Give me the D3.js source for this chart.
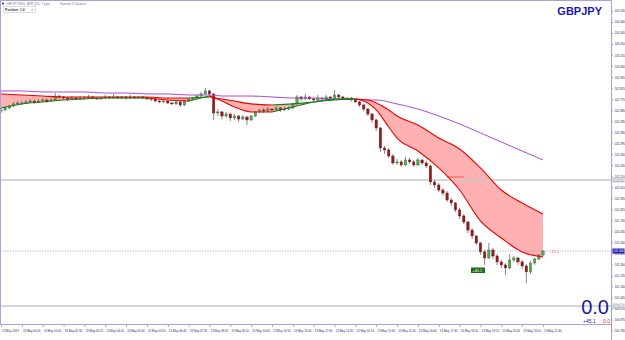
<!DOCTYPE html>
<html lang="en">
<head>
<meta charset="UTF-8">
<title>GBPJPY</title>
<style>
  html, body { margin: 0; padding: 0; background: #fff; }
  svg { display: block; font-family: "Liberation Sans", Arial, sans-serif; }
</style>
</head>
<body>
<script src="https://cdn.jsdelivr.net/npm/d3@7"></script>
<script>
// candles (one per bar, index 0..130)
var opens = [142.673,142.682,142.699,142.716,142.734,142.742,142.742,142.751,142.759,142.751,
142.759,142.768,142.759,142.768,142.802,142.794,142.785,142.777,142.785,142.777,
142.785,142.785,142.794,142.785,142.777,142.785,142.794,142.785,142.794,142.785,
142.794,142.785,142.794,142.785,142.794,142.785,142.777,142.777,142.759,142.751,
142.759,142.742,142.734,142.751,142.725,142.759,142.777,142.785,142.802,142.820,
142.846,142.820,142.656,142.665,142.630,142.647,142.613,142.630,142.604,142.621,
142.596,142.630,142.665,142.682,142.673,142.690,142.682,142.699,142.682,142.690,
142.699,142.734,142.794,142.777,142.794,142.777,142.768,142.785,142.777,142.794,
142.785,142.811,142.794,142.777,142.785,142.768,142.751,142.725,142.690,142.647,
142.596,142.527,142.354,142.337,142.285,142.225,142.234,142.208,142.251,142.234,
142.208,142.251,142.225,142.199,142.061,142.035,141.992,141.966,141.906,141.880,
141.820,141.768,141.716,141.647,141.596,141.535,141.458,141.406,141.475,141.423,
141.372,141.346,141.320,141.389,141.406,141.372,141.337,141.286,141.363,141.397,
141.432];
var closes = [142.682,142.699,142.716,142.734,142.742,142.742,142.751,142.759,142.751,142.759,
142.768,142.759,142.768,142.802,142.794,142.785,142.777,142.785,142.777,142.785,
142.785,142.794,142.785,142.777,142.785,142.794,142.785,142.794,142.785,142.794,
142.785,142.794,142.785,142.794,142.785,142.777,142.777,142.759,142.751,142.759,
142.742,142.734,142.751,142.725,142.759,142.777,142.785,142.802,142.820,142.846,
142.820,142.656,142.665,142.630,142.647,142.613,142.630,142.604,142.621,142.596,
142.630,142.665,142.682,142.673,142.690,142.682,142.699,142.682,142.690,142.699,
142.734,142.794,142.777,142.794,142.777,142.768,142.785,142.777,142.794,142.785,
142.811,142.794,142.777,142.785,142.768,142.751,142.725,142.690,142.647,142.596,
142.527,142.354,142.337,142.285,142.225,142.234,142.208,142.251,142.234,142.208,
142.251,142.225,142.199,142.061,142.035,141.992,141.966,141.906,141.880,141.820,
141.768,141.716,141.647,141.596,141.535,141.458,141.406,141.475,141.423,141.372,
141.346,141.320,141.389,141.406,141.372,141.337,141.286,141.363,141.397,141.432,
141.466];
var highs = [142.699,142.716,142.725,142.751,142.759,142.759,142.768,142.777,142.768,142.777,
142.785,142.777,142.785,142.828,142.811,142.802,142.794,142.802,142.794,142.802,
142.802,142.811,142.802,142.794,142.794,142.811,142.802,142.820,142.802,142.802,
142.802,142.811,142.802,142.802,142.802,142.794,142.794,142.785,142.768,142.768,
142.768,142.751,142.759,142.759,142.768,142.785,142.794,142.811,142.837,142.871,
142.854,142.828,142.690,142.673,142.665,142.656,142.647,142.639,142.639,142.630,
142.639,142.673,142.690,142.699,142.708,142.699,142.716,142.708,142.708,142.716,
142.742,142.811,142.802,142.820,142.802,142.785,142.811,142.794,142.811,142.802,
142.854,142.820,142.802,142.794,142.794,142.777,142.759,142.734,142.699,142.656,
142.604,142.535,142.371,142.354,142.302,142.259,142.251,142.277,142.268,142.251,
142.268,142.259,142.242,142.208,142.078,142.052,142.009,141.983,141.923,141.889,
141.837,141.785,141.725,141.664,141.604,141.544,141.475,141.535,141.492,141.440,
141.389,141.363,141.440,141.423,141.415,141.389,141.354,141.380,141.406,141.440,
141.475];
var lows = [142.656,142.673,142.690,142.708,142.725,142.725,142.734,142.742,142.734,142.742,
142.751,142.742,142.751,142.759,142.777,142.768,142.759,142.768,142.768,142.768,
142.777,142.777,142.777,142.768,142.768,142.777,142.777,142.777,142.777,142.777,
142.768,142.777,142.777,142.777,142.777,142.768,142.759,142.751,142.742,142.742,
142.734,142.725,142.725,142.708,142.716,142.751,142.768,142.777,142.794,142.811,
142.802,142.596,142.630,142.604,142.613,142.587,142.596,142.578,142.596,142.552,
142.587,142.621,142.656,142.656,142.665,142.665,142.673,142.665,142.673,142.682,
142.690,142.725,142.759,142.768,142.768,142.759,142.759,142.759,142.768,142.768,
142.777,142.777,142.768,142.768,142.759,142.742,142.708,142.673,142.630,142.570,
142.501,142.320,142.302,142.268,142.208,142.208,142.190,142.199,142.216,142.190,
142.199,142.208,142.182,142.035,142.009,141.975,141.940,141.889,141.854,141.802,
141.742,141.699,141.621,141.570,141.518,141.432,141.346,141.397,141.397,141.346,
141.320,141.259,141.311,141.372,141.346,141.311,141.190,141.268,141.346,141.389,
141.423];

// moving averages, read at these bar indices
var maIdx = [0,5,10,15,20,25,30,35,40,45,50,53,56,60,65,70,75,80,85,88,90,93,95,100,105,110,115,120,125,130];
var fastMA = [142.699,142.734,142.751,142.768,142.777,142.785,142.785,142.785,142.768,142.759,
142.802,142.759,142.708,142.665,142.665,142.708,142.751,142.777,142.777,142.742,
142.682,142.535,142.440,142.328,142.182,141.992,141.725,141.578,141.458,141.415];
var slowMA = [142.820,142.811,142.802,142.794,142.794,142.794,142.794,142.794,142.785,142.785,
142.794,142.777,142.759,142.734,142.725,142.734,142.751,142.768,142.777,142.768,
142.742,142.682,142.630,142.553,142.440,142.346,142.182,141.992,141.880,141.785];
var longMA = [142.846,142.846,142.837,142.837,142.837,142.828,142.828,142.820,142.820,142.811,
142.811,142.802,142.802,142.802,142.794,142.785,142.785,142.777,142.777,142.768,
142.768,142.751,142.734,142.690,142.630,142.561,142.484,142.406,142.328,142.251];

var priceTicks = [143.535,143.440,143.345,143.250,143.155,143.060,142.965,142.870,142.775,142.680,
142.585,142.490,142.395,142.300,142.205,142.110,142.015,141.920,141.825,141.730,
141.635,141.540,141.445,141.350,141.255,141.160,141.065,140.970,140.875,140.780];
var timeTicks = [0,5,10,15,20,25,30,35,40,45,50,55,60,65,70,75,80,85,90,95,100,105,110,115,120,125,130];
var timeLabels = ["13 May 2019","13 May 00:50","13 May 01:40","13 May 02:30","13 May 03:20","13 May 04:10",
"13 May 05:00","13 May 05:50","13 May 06:40","13 May 07:30","13 May 08:20","13 May 09:10","13 May 10:00",
"13 May 10:50","13 May 11:40","13 May 12:30","13 May 13:20","13 May 14:10","13 May 15:00","13 May 15:50",
"13 May 16:40","13 May 17:30","13 May 18:20","13 May 19:10","13 May 20:00","13 May 20:50","13 May 21:40"];

var bidPrice = 141.466;
var levelLines = [142.078, 140.992];
var markLine = {from: 107, to: 111, price: 142.104};

var W = 625, H = 340, plotR = 611, plotB = 324;
var borderC = "#a8a0d8", textC = "#2a2a60";
var small = "2.9px";

var svg = d3.select("body").append("svg").attr("width", W).attr("height", H);

var x = d3.scaleLinear().domain([0, 130]).range([1, 543]);
var y = d3.scaleLinear().domain([143.535, 140.780]).range([11, 330.6]);

var defs = svg.append("defs");
var curve = d3.curveMonotoneX;
var maPts = maIdx.map(function(b, k) { return {b: b, f: fastMA[k], s: slowMA[k], l: longMA[k]}; });

defs.append("clipPath").attr("id", "below").append("path")
  .attr("d", d3.area().x(function(d){ return x(d.b); }).y0(function(d){ return y(d.s); }).y1(H).curve(curve)(maPts));
defs.append("clipPath").attr("id", "above").append("path")
  .attr("d", d3.area().x(function(d){ return x(d.b); }).y0(0).y1(function(d){ return y(d.s); }).curve(curve)(maPts));

var band = d3.area().x(function(d){ return x(d.b); })
  .y0(function(d){ return y(d.s); }).y1(function(d){ return y(d.f); }).curve(curve);
svg.append("path").attr("d", band(maPts)).attr("fill", "#ffb0b0").attr("clip-path", "url(#below)");
svg.append("path").attr("d", band(maPts)).attr("fill", "#c4e6c0").attr("clip-path", "url(#above)");

// level lines
levelLines.forEach(function(p) {
  svg.append("line").attr("x1", 0).attr("x2", plotR).attr("y1", y(p)).attr("y2", y(p))
    .attr("stroke", "#c8c8c8").attr("stroke-width", 1.3);
});
svg.append("line").attr("x1", 0).attr("x2", plotR).attr("y1", y(bidPrice)).attr("y2", y(bidPrice))
  .attr("stroke", "#8a8ad8").attr("stroke-width", 0.8).attr("stroke-dasharray", "1,1.5");
svg.append("line").attr("x1", x(markLine.from)).attr("x2", x(markLine.to))
  .attr("y1", y(markLine.price)).attr("y2", y(markLine.price))
  .attr("stroke", "#ff3030").attr("stroke-width", 0.7);

// candles
var bars = d3.range(opens.length);
var g = svg.append("g");
g.selectAll(".wick").data(bars).enter().append("line")
  .attr("x1", function(i){ return x(i); }).attr("x2", function(i){ return x(i); })
  .attr("y1", function(i){ return y(highs[i]); }).attr("y2", function(i){ return y(lows[i]); })
  .attr("stroke", "#6a6a6a").attr("stroke-width", 0.8);
g.selectAll(".body").data(bars).enter().append("rect")
  .attr("x", function(i){ return x(i) - 1.2; }).attr("width", 2.4)
  .attr("y", function(i){ return y(Math.max(opens[i], closes[i])); })
  .attr("height", function(i){ return Math.max(0.8, Math.abs(y(opens[i]) - y(closes[i]))); })
  .attr("fill", function(i){ return closes[i] >= opens[i] ? "#5aa85a" : "#8e1e1e"; })
  .attr("stroke", function(i){ return closes[i] >= opens[i] ? "#2a6a2a" : "#7a1414"; })
  .attr("stroke-width", 0.4);

// MA lines, coloured by slope
function drawMA(key, upC, downC, fixed) {
  var line = d3.line().x(function(d){ return x(d.b); }).y(function(d){ return y(d[key]); }).curve(curve);
  if (fixed) {
    svg.append("path").attr("d", line(maPts)).attr("fill", "none").attr("stroke", fixed).attr("stroke-width", 1);
    return;
  }
  var runs = [], cur = null, up = true;
  for (var k = 1; k < maPts.length; k++) {
    var dv = maPts[k][key] - maPts[k-1][key];
    if (dv > 0) up = true; else if (dv < 0) up = false;
    if (!cur || cur.up !== up) { cur = {up: up, pts: [maPts[k-1]]}; runs.push(cur); }
    cur.pts.push(maPts[k]);
  }
  runs.forEach(function(r) {
    svg.append("path").attr("d", line(r.pts)).attr("fill", "none")
      .attr("stroke", r.up ? upC : downC).attr("stroke-width", 1.1);
  });
}
drawMA("l", null, null, "#b04ad0");
drawMA("s", "#1a7a1a", "#ee0000");
drawMA("f", "#1a7a1a", "#ee0000");

// frame
svg.append("line").attr("x1", 0.5).attr("x2", 0.5).attr("y1", 0).attr("y2", plotB).attr("stroke", borderC);
svg.append("line").attr("x1", 0).attr("x2", plotR).attr("y1", 0.5).attr("y2", 0.5).attr("stroke", borderC);

// price axis
var yAxis = d3.axisRight(y).tickValues(priceTicks).tickFormat(d3.format(".3f")).tickSize(2).tickPadding(1.5);
var ya = svg.append("g").attr("transform", "translate(" + plotR + ",0)").call(yAxis);
ya.select(".domain").attr("stroke", borderC).attr("d", "M0.5,0V" + H);
ya.selectAll(".tick line").attr("stroke", borderC);
ya.selectAll("text").attr("font-size", small).attr("fill", textC).attr("font-family", "Liberation Sans, Arial, sans-serif");

// time axis
var xAxis = d3.axisBottom(x).tickValues(timeTicks).tickFormat(function(d, i){ return timeLabels[i]; })
  .tickSize(3).tickPadding(2.5);
var xa = svg.append("g").attr("transform", "translate(0," + plotB + ")").call(xAxis);
xa.select(".domain").attr("stroke", borderC).attr("d", "M0,0.5H" + plotR);
xa.selectAll(".tick line").attr("stroke", borderC);
xa.selectAll("text").attr("font-size", small).attr("fill", textC).attr("text-anchor", "start").attr("dx", "0.6")
  .attr("font-family", "Liberation Sans, Arial, sans-serif");

// axis price tags
function tag(p, bg) {
  svg.append("rect").attr("x", plotR + 1.5).attr("y", y(p) - 2.5).attr("width", 12).attr("height", 5).attr("fill", bg);
  svg.append("text").attr("x", plotR + 2.3).attr("y", y(p) + 1).attr("font-size", small)
    .attr("fill", "#fff").text(d3.format(".3f")(p));
}
levelLines.forEach(function(p){ tag(p, "#c4c4c4"); });
tag(bidPrice, "#1c1cb0");

// texts
svg.append("text").attr("x", 602).attr("y", 15).attr("text-anchor", "end")
  .attr("font-size", "11px").attr("font-weight", "bold").attr("fill", "#1a1aa8").text("GBPJPY");
svg.append("rect").attr("x", 2).attr("y", 2.5).attr("width", 2).attr("height", 2).attr("fill", "#555");
svg.append("text").attr("x", 6).attr("y", 5).attr("font-size", "3.2px").attr("fill", "#777").text("GBPJPY,M10");
svg.append("text").attr("x", 27).attr("y", 5).attr("font-size", "3.2px").attr("fill", "#777").text("ATR (15): 7 pips");
svg.append("text").attr("x", 60).attr("y", 5).attr("font-size", "3.2px").attr("fill", "#777").text("Spread: 0.3 points");
svg.append("rect").attr("x", 3.5).attr("y", 6.5).attr("width", 32).attr("height", 6)
  .attr("fill", "#fff").attr("stroke", "#bbb").attr("stroke-width", 0.5);
svg.append("text").attr("x", 5).attr("y", 10.8).attr("font-size", "3.3px").attr("fill", "#333")
  .attr("font-weight", "bold").text("Position: 1.0");
svg.append("text").attr("x", 30.5).attr("y", 10.8).attr("font-size", "3.3px").attr("fill", "#555").text("✕");

svg.append("text").attr("x", 550).attr("y", y(bidPrice) + 1.5).attr("font-size", "4px").attr("fill", "#ff5fa8").text("-32.1");
svg.append("rect").attr("x", 471).attr("y", 267.5).attr("width", 14).attr("height", 5.5).attr("fill", "#1e6e1e");
svg.append("text").attr("x", 472.5).attr("y", 271.6).attr("font-size", "3.8px").attr("fill", "#fff").text("+45.1");

svg.append("text").attr("x", 609).attr("y", 314).attr("text-anchor", "end").attr("font-size", "20px")
  .attr("fill", "#1a1aa0").text("0.0");
svg.append("text").attr("x", 583).attr("y", 323).attr("font-size", "5px").attr("fill", "#1a1aa0").text("+45.1");
svg.append("text").attr("x", 603).attr("y", 323).attr("font-size", "5px").attr("fill", "#ee2020").text("0.0");
</script>
</body>
</html>
